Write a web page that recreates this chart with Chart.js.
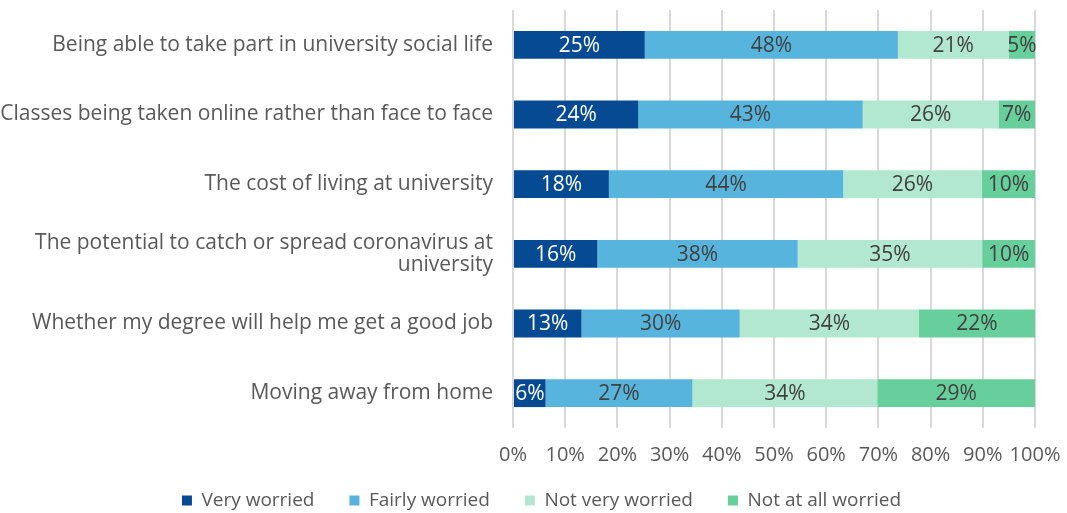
<!DOCTYPE html>
<html>
<head>
<meta charset="utf-8">
<script src="https://cdn.jsdelivr.net/npm/chart.js@4/dist/chart.umd.min.js"></script>
<style>
  body { margin: 0; background: #fff; }
</style>
</head>
<body>
<canvas id="myChart" width="1067" height="513"></canvas>
<script>
const categories = [
    'Being able to take part in university social life',
    'Classes being taken online rather than face to face',
    'The cost of living at university',
    ['The potential to catch or spread coronavirus at', 'university'],
    'Whether my degree will help me get a good job',
    'Moving away from home'
];
const seriesNames = ['Very worried', 'Fairly worried', 'Not very worried', 'Not at all worried'];
const veryWorried    = [25, 24, 18, 16, 13, 6];
const fairlyWorried  = [48, 43, 44, 38, 30, 27];
const notVeryWorried = [21, 26, 26, 35, 34, 34];
const notAtAll       = [5, 7, 10, 10, 22, 29];
const tickLabels = ['0%', '10%', '20%', '30%', '40%', '50%', '60%', '70%', '80%', '90%', '100%'];

const colors = ['#064a93', '#57b5dd', '#b2e8cf', '#66cf9c'];
const labelColors = ['#ffffff', '#404040', '#404040', '#404040'];
const raw = [veryWorried, fairlyWorried, notVeryWorried, notAtAll];

// 100% stacked: each row is scaled so it fills the bar
const totals = categories.map(function(c, i) {
    return raw.reduce(function(s, arr) { return s + arr[i]; }, 0);
});

const datasets = raw.map(function(arr, k) {
    return {
        label: seriesNames[k],
        data: arr.map(function(v, i) { return v / totals[i] * 100; }),
        raw: arr,
        backgroundColor: colors[k],
        labelColor: labelColors[k],
        barPercentage: 0.8,
        categoryPercentage: 0.5
    };
});

const font = "'Open Sans', 'Liberation Sans', sans-serif";
const leftPad = 48;

const barLabels = {
    id: 'barLabels',
    afterDatasetsDraw(chart) {
        const ctx = chart.ctx;
        ctx.save();
        ctx.font = '21px ' + font;
        ctx.textAlign = 'center';
        ctx.textBaseline = 'middle';
        chart.data.datasets.forEach(function(ds, k) {
            chart.getDatasetMeta(k).data.forEach(function(bar, i) {
                ctx.fillStyle = ds.labelColor;
                const cx = (bar.x + bar.base) / 2;
                ctx.fillText(ds.raw[i] + '%', cx, bar.y + 1);
            });
        });
        ctx.restore();
    }
};

// let tick labels spill outside their axis box
function noLabelClip(scale) {
    scale._computeLabelArea = function() { return undefined; };
}

const ctx = document.getElementById('myChart').getContext('2d');
const myChart = new Chart(ctx, {
    type: 'bar',
    data: {
        labels: categories,
        datasets: datasets
    },
    plugins: [barLabels],
    options: {
        indexAxis: 'y',
        responsive: false,
        animation: false,
        layout: { padding: { top: 10, right: 32, left: leftPad, bottom: -7 } },
        plugins: {
            tooltip: { enabled: false },
            legend: {
                position: 'bottom',
                labels: {
                    boxWidth: 10,
                    boxHeight: 10,
                    padding: 35,
                    color: '#595959',
                    font: { family: font, size: 19 }
                }
            }
        },
        scales: {
            x: {
                stacked: true,
                min: 0,
                max: 100,
                border: { display: false },
                grid: { color: '#d9d9d9', lineWidth: 2, drawTicks: false },
                afterFit: function(scale) {
                    scale.height = 28;
                    scale.paddingLeft = 0;
                    scale.paddingRight = 0;
                    noLabelClip(scale);
                },
                ticks: {
                    stepSize: 10,
                    padding: 15,
                    color: '#595959',
                    maxRotation: 0,
                    autoSkip: false,
                    font: { family: font, size: 20 },
                    callback: function(v, i) { return tickLabels[i]; }
                }
            },
            y: {
                stacked: true,
                border: { display: false },
                grid: { display: false, drawTicks: false },
                afterFit: function(scale) {
                    scale.width = 513 - leftPad;
                    scale.paddingTop = 0;
                    scale.paddingBottom = 0;
                    noLabelClip(scale);
                },
                ticks: {
                    padding: 20,
                    color: '#595959',
                    font: { family: font, size: 21, lineHeight: 1.05 }
                }
            }
        }
    }
});
</script>
</body>
</html>
